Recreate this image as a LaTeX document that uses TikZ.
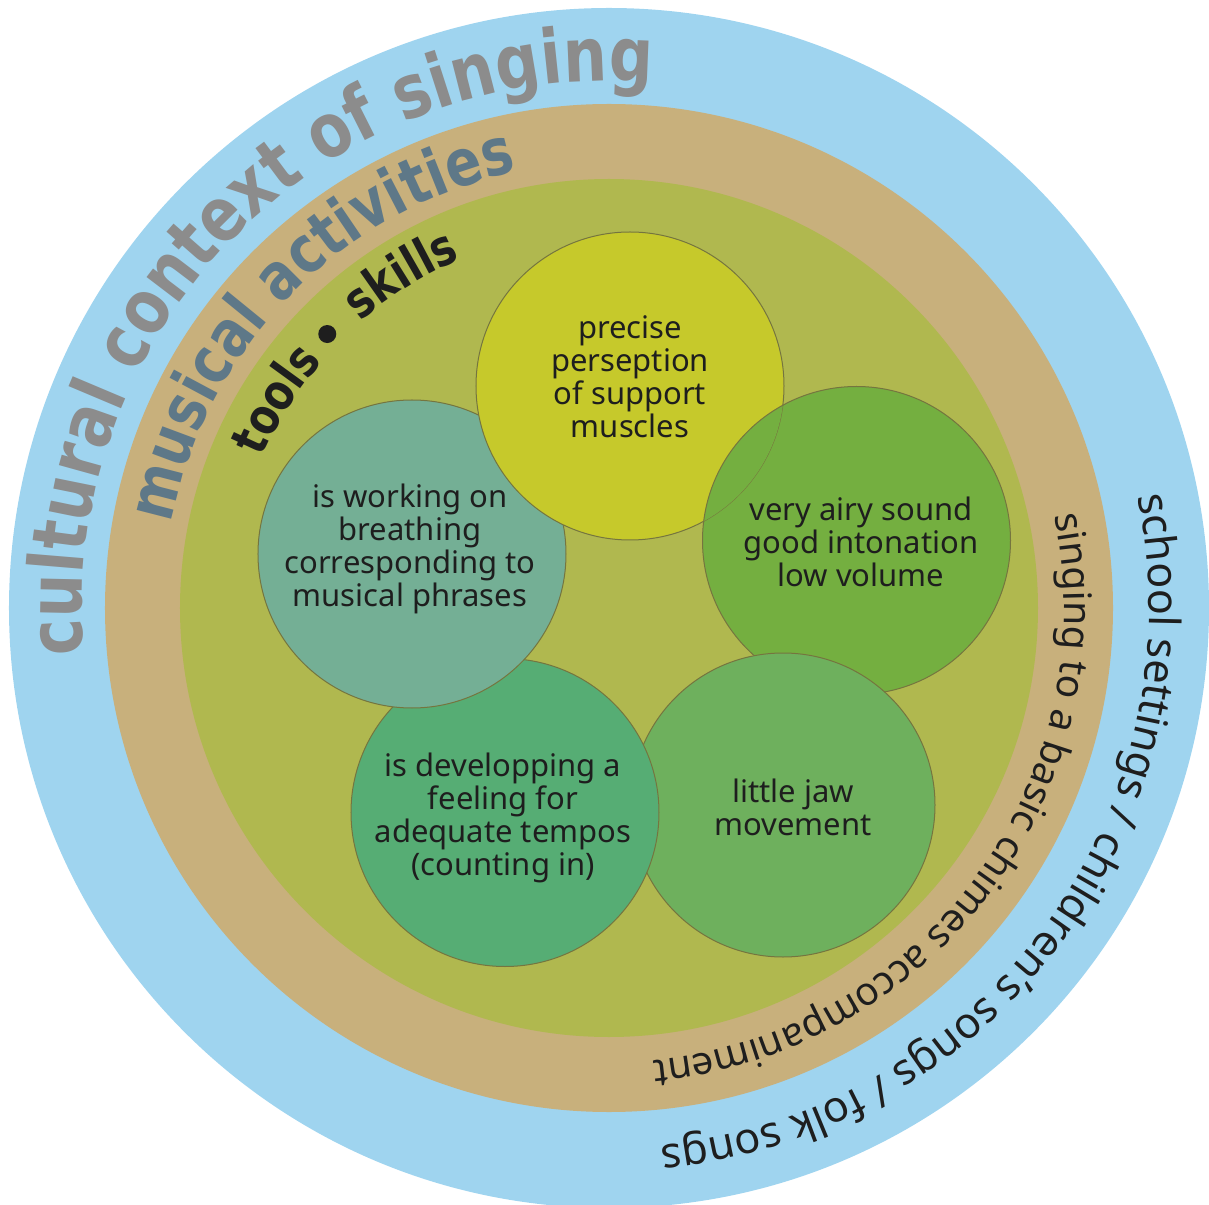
\documentclass[tikz,border=0pt]{standalone}
\usepackage{fontspec}
\setmainfont{Noto Sans}
\newfontfamily\labelfont{DejaVu Sans}[FakeStretch=0.82]
\usetikzlibrary{decorations.text}
\definecolor{ringblue}{HTML}{9FD4EF}
\definecolor{ringtan}{HTML}{C8B07C}
\definecolor{ringolive}{HTML}{B0B84F}
\definecolor{cyellow}{HTML}{C6C92B}
\definecolor{cairy}{HTML}{74AF40}
\definecolor{cjaw}{HTML}{6EB05D}
\definecolor{ctempo}{HTML}{56AD74}
\definecolor{cteal}{HTML}{74AF95}
\definecolor{cedge}{HTML}{75753F}
\definecolor{tgray}{HTML}{8C8C8C}
\definecolor{tslate}{HTML}{5E7888}
\definecolor{tdark}{HTML}{1E1E1E}
\begin{document}
\begin{tikzpicture}[x=1pt,y=1pt,
  bubble/.style={circle, draw=cedge, line width=1pt, inner sep=0pt, minimum size=#1},
  bubbletext/.style={align=center, text=tdark, font=\fontsize{31}{33}\selectfont},
  ]
\useasboundingbox (-609,-596) rectangle (600,608);
\fill[ringblue] (0,0) circle[radius=600];
\fill[ringtan] (0,0) circle[radius=504];
\fill[ringolive] (0,0) circle[radius=429];

% bubbles (cyclic overlap)
\node[bubble=308pt, fill=cairy] (airy) at (247.5,67.5) {};
\node[bubble=304pt, fill=cjaw] (jaw) at (174,-197) {};
\node[bubble=308pt, fill=ctempo] (tempo) at (-104,-204.5) {};
\node[bubble=308pt, fill=cteal] (teal) at (-197,54) {};
\node[bubble=308pt, fill=cyellow] (yellow) at (21,222) {};
\begin{scope}
  \clip (yellow.center) circle[radius=154];
  \filldraw[fill=cairy, draw=cedge, line width=1pt] (airy.center) circle[radius=154];
\end{scope}

% bubble texts
\node[bubbletext] (tyellow) at (21,231.5) {precise\\perseption\\of support\\muscles};
\node[bubbletext] (tairy) at (252,66) {very airy sound\\good intonation\\low volume};
\node[bubbletext] (tjaw) at (184,-199) {little jaw\\movement};
\node[bubbletext] (ttempo) at (-106,-210) {is developping a\\feeling for\\adequate tempos\\(counting in)};
\node[bubbletext] (tteal) at (-199,59) {is working on\\breathing\\corresponding to\\musical phrases};

% curved labels
\path[decorate, decoration={text along path, text align=center,
  text={|\labelfont\bfseries\fontsize{75}{75}\selectfont\color{tgray}|cultural context of singing}}]
  (230.2:527) arc[start angle=230.2, end angle=40.2, radius=527];
\path[decorate, decoration={text along path, text align=center,
  text={|\labelfont\bfseries\fontsize{65}{65}\selectfont\color{tslate}|musical activities}}]
  (230.5:446) arc[start angle=230.5, end angle=40.5, radius=446];
\path[decorate, decoration={text along path, text align=left,
  text={|\labelfont\bfseries\fontsize{50}{50}\selectfont\color{tdark}|tools}}]
  (156.6:378) arc[start angle=156.6, end angle=60, radius=378];
\path[decorate, decoration={text along path, text align=right,
  text={|\labelfont\bfseries\fontsize{50}{50}\selectfont\color{tdark}|skills}}]
  (200:379) arc[start angle=200, end angle=113, radius=379];
\fill[tdark] (135.8:393) circle[radius=9];
\path[decorate, decoration={text along path, text align=center,
  text={|\fontsize{43}{43}\selectfont\color{tdark}|school settings / children’s songs / folk songs}}]
  (58.7:540) arc[start angle=58.7, end angle=-131.3, radius=540];
\path[decorate, decoration={text along path, text align=center,
  text={|\fontsize{39}{39}\selectfont\color{tdark}|singing to a basic chimes accompaniment}}]
  (58.6:455) arc[start angle=58.6, end angle=-131.4, radius=455];
\end{tikzpicture}
\end{document}
